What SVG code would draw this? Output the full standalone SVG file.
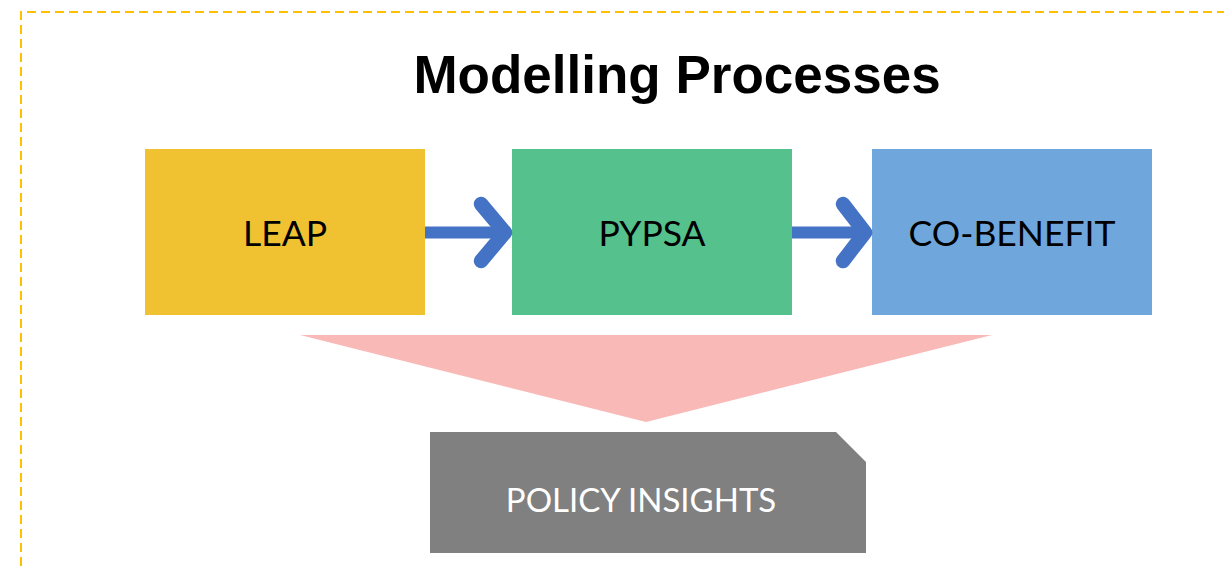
<svg xmlns="http://www.w3.org/2000/svg" width="1224" height="569" viewBox="0 0 1224 569">
<style>
.lbl{font-family:Lato,"Open Sans","Liberation Sans",sans-serif;font-size:35.5px;fill:#000;text-anchor:middle;}
.arrow{stroke:#4472C4;fill:none;}
</style>
<rect width="1224" height="569" fill="#fff"/>
<path d="M21 580 V12 H1240" fill="none" stroke="#FFC000" stroke-width="2" stroke-dasharray="9 5"/>
<text x="677" y="93" font-family="'Liberation Sans',Arial,sans-serif" font-weight="bold" font-size="53" text-anchor="middle">Modelling Processes</text>
<g id="leap">
<rect x="145" y="149" width="280" height="166" fill="#F0C232"/>
<text class="lbl" x="285" y="246">LEAP</text>
</g>
<g id="pypsa">
<rect x="512" y="149" width="280" height="166" fill="#55C18C"/>
<text class="lbl" x="652" y="246">PYPSA</text>
</g>
<g id="cobenefit">
<rect x="872" y="149" width="280" height="166" fill="#6FA7DC"/>
<text class="lbl" x="1012" y="246">CO-BENEFIT</text>
</g>
<g id="insight">
<polygon points="300,335 992,335 646,422" fill="#F8B9B7"/>
</g>
<g id="policy">
<polygon points="430,432 836,432 866,462 866,553 430,553" fill="#808080"/>
<text x="641" y="512" font-family="Lato,'Open Sans','Liberation Sans',sans-serif" font-size="33" fill="#fff" text-anchor="middle">POLICY INSIGHTS</text>
</g>
<g id="connectors" class="arrow">
<line x1="425" y1="232.5" x2="504" y2="232.5" stroke-width="12"/>
<polyline points="481,204 505,232.5 481,261" stroke-width="14.5" stroke-linecap="round" stroke-linejoin="round"/>
<line x1="792" y1="232.5" x2="864" y2="232.5" stroke-width="12"/>
<polyline points="843,204 865,232.5 843,261" stroke-width="14.5" stroke-linecap="round" stroke-linejoin="round"/>
</g>
</svg>
